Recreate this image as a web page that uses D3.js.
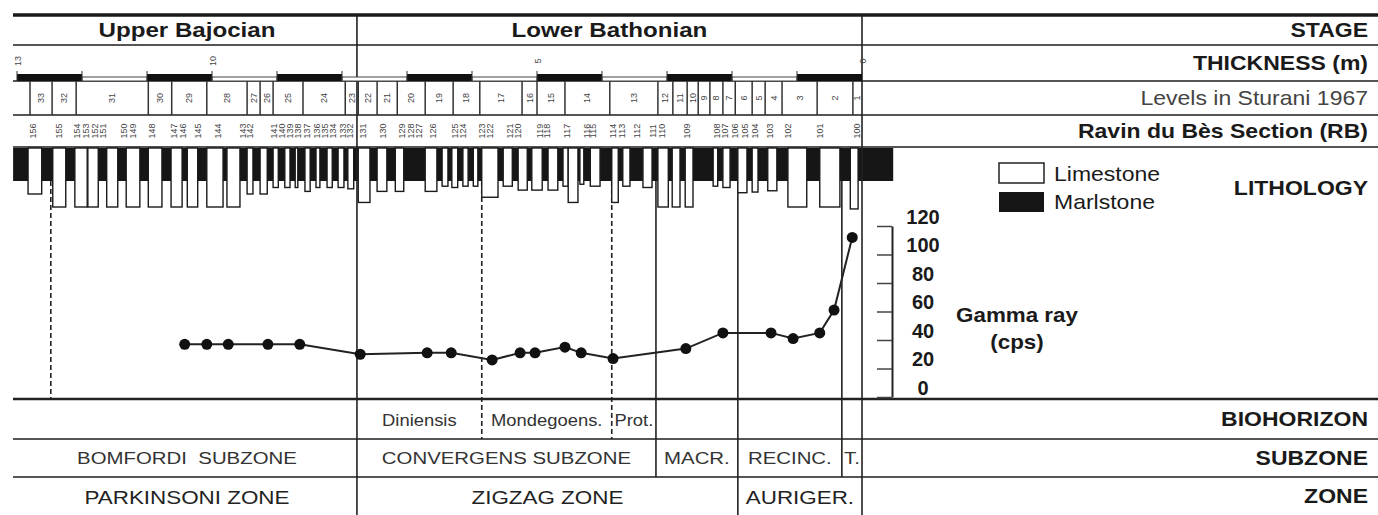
<!DOCTYPE html>
<html>
<head>
<meta charset="utf-8">
<script src="https://cdn.jsdelivr.net/npm/d3@7"></script>
<style>
body { margin: 0; background: #fff; }
svg text { font-family: "Liberation Sans", Arial, sans-serif; white-space: pre; }
</style>
</head>
<body>
<svg id="chart" width="1378" height="515"></svg>
<script>
// ---- data (positions in metres below the top of the section) ----
var thicknessTicks = [13, 10, 5, 0];

var stageNames = ["Upper Bajocian", "Lower Bathonian"];
var stageBounds = [[13, 7.77], [7.77, 0]];

// Sturani 1967 levels: left edge of each level, labels 33 -> 1
var levelStarts = [12.80, 12.46, 12.09, 10.98, 10.62, 10.08, 9.46, 9.26, 9.06, 8.60, 7.95, 7.75,
  7.46, 7.15, 6.72, 6.29, 5.88, 5.23, 5.00, 4.57, 3.88, 3.14, 2.91, 2.69, 2.52, 2.34, 2.14,
  1.95, 1.69, 1.49, 1.23, 0.69, 0.14];
var levelNames = ["33","32","31","30","29","28","27","26","25","24","23","22","21","20","19",
  "18","17","16","15","14","13","12","11","10","9","8","7","6","5","4","3","2","1"];

// Ravin du Bes samples
var sampleM = [12.75,12.35,12.08,11.94,11.80,11.68,11.35,11.22,10.92,10.58,10.45,10.22,9.91,
  9.52,9.42,9.05,8.92,8.80,8.68,8.54,8.38,8.26,8.14,7.98,7.88,7.68,7.37,7.08,6.94,6.82,6.60,
  6.26,6.14,5.85,5.72,5.42,5.29,4.95,4.85,4.54,4.23,4.14,3.83,3.69,3.46,3.22,3.08,2.69,2.23,
  2.11,1.95,1.80,1.65,1.42,1.14,0.65,0.08];
var sampleIds = ["156","155","154","153","152","151","150","149","148","147","146","145","144",
  "143","142","141","140","139","138","137","136","135","134","133","132","131","130","129",
  "128","127","126","125","124","123","122","121","120","119","118","117","116","115","114",
  "113","112","111","110","109","108","107","106","105","104","103","102","101","100"];

// lithology: marl background, limestone beds [from, to, relief]
var marlExtent = [13.06, -0.48];
var limestoneBeds = [
  [12.83,12.62,2],[12.45,12.25,4],[12.11,11.92,4],[11.91,11.75,4],[11.62,11.45,4],
  [11.32,11.11,4],[10.98,10.77,4],[10.63,10.46,4],[10.38,10.22,4],[10.08,9.83,4],
  [9.77,9.57,4],[9.46,9.37,2],[9.26,9.15,2],[9.06,8.98,1],[8.88,8.80,1],[8.72,8.68,1],
  [8.57,8.49,1.6],[8.40,8.34,1],[8.23,8.15,1],[8.06,7.97,1],[7.91,7.82,1.2],[7.75,7.57,3.3],
  [7.46,7.31,1.6],[7.18,7.05,1.6],[6.72,6.54,1.6],[6.46,6.37,0.8],[6.31,6.22,1],
  [6.14,6.06,0.8],[5.98,5.91,0.8],[5.85,5.60,2.5],[5.52,5.38,0.8],[5.29,5.15,1.4],
  [5.08,4.92,1.4],[4.83,4.68,1.4],[4.60,4.52,0.8],[4.52,4.37,3.3],[4.34,4.28,0.5],
  [4.18,4.03,0.8],[3.85,3.75,3.3],[3.68,3.57,0.8],[3.37,3.23,1],[3.14,2.98,4],
  [2.92,2.80,4],[2.72,2.60,4],[2.29,2.22,0.8],[2.14,2.03,1],[1.91,1.77,1.8],
  [1.69,1.60,1.7],[1.45,1.31,1.5],[1.14,0.85,4],[0.65,0.34,4],[0.18,0.06,4.3]
];

// gamma ray
var gammaM = [10.42,10.08,9.75,9.14,8.65,7.72,6.69,6.32,5.69,5.26,5.03,4.57,4.32,3.83,
  2.71,2.14,1.40,1.06,0.65,0.43,0.15];
var gammaCps = [37,37,37,37,37,30,31,31,26,31,31,35,31,27,34,45,45,41,45,61,112];
var gammaTicks = [0, 20, 40, 60, 80, 100, 120];

// biostratigraphy
var bioNames = ["Diniensis", "Mondegoens.", "Prot."];
var bioBounds = [[7.77, 5.85], [5.85, 3.85], [3.85, 3.17]];
var subzoneNames = ["BOMFORDI  SUBZONE", "CONVERGENS SUBZONE", "MACR.", "RECINC.", "T."];
var subzoneBounds = [[13, 7.77], [7.77, 3.17], [3.17, 1.91], [1.91, 0.31], [0.31, 0]];
var zoneNames = ["PARKINSONI ZONE", "ZIGZAG ZONE", "AURIGER."];
var zoneBounds = [[13, 7.77], [7.77, 1.91], [1.91, 0]];

// boundary lines through the log
var boundaryM = [12.48, 5.85, 3.85, 3.17, 1.91, 0.31];
var boundaryDashed = [true, true, true, false, false, false];
var boundaryReach = ["panel", "bio", "bio", "subzone", "zone", "subzone"];

var rowTitles = ["STAGE", "THICKNESS (m)", "Levels in Sturani 1967", "Ravin du Bès Section (RB)",
  "LITHOLOGY", "BIOHORIZON", "SUBZONE", "ZONE"];

// ---- layout ----
var rows = {top: 15, stage: 45, thick: 81, levels: 115, ravin: 147, panel: 399, bio: 439, subzone: 477, zone: 515};
var right = 1368;

var svg = d3.select("#chart");
var x = d3.scaleLinear().domain([13, 0]).range([17, 862]);
var y = d3.scaleLinear().domain([0, 120]).range([397, 226]);
var relief = d3.scaleLinear().domain([0, 4]).range([181, 207]);

function txt(sel, px, py, s, o) {
  return sel.append("text")
    .attr("transform", "translate(" + px + "," + py + ") scale(" + (o.sx || 1) + ",1)")
    .attr("text-anchor", o.anchor || "middle")
    .attr("dominant-baseline", "central")
    .style("font-size", o.size + "px")
    .style("font-weight", o.weight || "normal")
    .attr("fill", o.fill || "#1a1a1a")
    .text(s);
}

// horizontal row lines
svg.append("line").attr("x1", 13).attr("x2", 1378).attr("y1", rows.top).attr("y2", rows.top)
  .attr("stroke", "#1a1a1a").attr("stroke-width", 3.5);
[rows.stage, rows.thick, rows.levels, rows.ravin, rows.bio, rows.subzone].forEach(function(r) {
  svg.append("line").attr("x1", 13).attr("x2", 1378).attr("y1", r).attr("y2", r)
    .attr("stroke", "#555").attr("stroke-width", 2);
});
svg.append("line").attr("x1", 13).attr("x2", 1378).attr("y1", rows.panel).attr("y2", rows.panel)
  .attr("stroke", "#222").attr("stroke-width", 2.5);

// boundary lines (drawn under the lithology)
boundaryM.forEach(function(m, i) {
  svg.append("line").attr("x1", x(m)).attr("x2", x(m))
    .attr("y1", relief(0)).attr("y2", rows[boundaryReach[i]])
    .attr("stroke", "#222").attr("stroke-width", 1.6)
    .attr("stroke-dasharray", boundaryDashed[i] ? "5,3" : null);
});

// lithology
var litho = svg.append("g");
litho.append("rect").attr("x", x(marlExtent[0])).attr("y", rows.ravin + 1)
  .attr("width", x(marlExtent[1]) - x(marlExtent[0])).attr("height", relief(0) - rows.ravin - 1)
  .attr("fill", "#161616");
litho.selectAll("rect.lime").data(limestoneBeds).enter().append("rect").attr("class", "lime")
  .attr("x", function(d) { return x(d[0]); })
  .attr("y", rows.ravin + 1)
  .attr("width", function(d) { return x(d[1]) - x(d[0]); })
  .attr("height", function(d) { return relief(d[2]) - rows.ravin - 1; })
  .attr("fill", "#fff").attr("stroke", "#1a1a1a").attr("stroke-width", 1.4);

// main frame lines: stage boundary and right edge of the log
[7.77, 0].forEach(function(m) {
  svg.append("line").attr("x1", x(m)).attr("x2", x(m)).attr("y1", rows.top).attr("y2", rows.zone)
    .attr("stroke", "#222").attr("stroke-width", 1.6);
});

// stage names
stageNames.forEach(function(s, i) {
  var b = stageBounds[i];
  txt(svg, (x(b[0]) + x(b[1])) / 2, 30, s, {size: 21, weight: "bold", sx: 1.15});
});

// thickness scale
var segs = d3.range(13);
segs.forEach(function(i) {
  var x0 = x(13 - i), x1 = x(12 - i);
  if (i % 2 === 0) {
    svg.append("rect").attr("x", x0).attr("y", 74).attr("width", x1 - x0).attr("height", rows.thick - 74)
      .attr("fill", "#111");
  } else {
    svg.append("rect").attr("x", x0).attr("y", 77).attr("width", x1 - x0).attr("height", rows.thick - 77)
      .attr("fill", "#fff").attr("stroke", "#444").attr("stroke-width", 1);
  }
  svg.append("line").attr("x1", x0).attr("x2", x0).attr("y1", 71).attr("y2", rows.thick)
    .attr("stroke", "#333").attr("stroke-width", 1);
});
thicknessTicks.forEach(function(t) {
  svg.append("text").attr("transform", "translate(" + (x(t) + 1) + ",61) rotate(-90)")
    .attr("text-anchor", "middle").attr("dominant-baseline", "central")
    .style("font-size", "9px").attr("fill", "#444").text(t);
});

// Sturani levels
levelStarts.forEach(function(m, i) {
  var next = i < levelStarts.length - 1 ? levelStarts[i + 1] : 0;
  svg.append("line").attr("x1", x(m)).attr("x2", x(m)).attr("y1", rows.thick).attr("y2", rows.levels)
    .attr("stroke", "#333").attr("stroke-width", 1.5);
  svg.append("text").attr("transform", "translate(" + ((x(m) + x(next)) / 2) + ",98) rotate(-90)")
    .attr("text-anchor", "middle").attr("dominant-baseline", "central")
    .style("font-size", "9px").attr("fill", "#444").text(levelNames[i]);
});

// sample numbers
sampleM.forEach(function(m, i) {
  svg.append("text").attr("transform", "translate(" + x(m) + ",131) rotate(-90)")
    .attr("text-anchor", "middle").attr("dominant-baseline", "central")
    .style("font-size", "9px").attr("fill", "#444").text(sampleIds[i]);
});

// gamma ray curve
var pts = gammaM.map(function(m, i) { return [x(m), y(gammaCps[i])]; });
svg.append("path").attr("d", d3.line()(pts)).attr("fill", "none")
  .attr("stroke", "#222").attr("stroke-width", 2);
svg.selectAll("circle.gr").data(pts).enter().append("circle").attr("class", "gr")
  .attr("cx", function(d) { return d[0]; }).attr("cy", function(d) { return d[1]; })
  .attr("r", 5.5).attr("fill", "#111");

// gamma axis
var axisG = svg.append("g").attr("transform", "translate(892,0)")
  .call(d3.axisRight(y).tickValues(gammaTicks).tickSize(-15).tickSizeOuter(0));
axisG.select(".domain").attr("stroke", "#222").attr("stroke-width", 2);
axisG.selectAll(".tick line").attr("stroke", "#444").attr("stroke-width", 1.5);
axisG.selectAll(".tick text").attr("x", 31).attr("y", -10).attr("dy", "0.35em")
  .attr("text-anchor", "middle").style("font-size", "20px").style("font-weight", "bold")
  .style("font-family", "'Liberation Sans', Arial, sans-serif").attr("fill", "#1a1a1a");
txt(svg, 1017, 315, "Gamma ray", {size: 20, weight: "bold", sx: 1.12});
txt(svg, 1017, 342, "(cps)", {size: 20, weight: "bold", sx: 1.12});

// legend
svg.append("rect").attr("x", 999).attr("y", 163).attr("width", 45).attr("height", 20)
  .attr("fill", "#fff").attr("stroke", "#222").attr("stroke-width", 1.5);
svg.append("rect").attr("x", 999).attr("y", 192).attr("width", 45).attr("height", 20)
  .attr("fill", "#161616");
txt(svg, 1054, 174, "Limestone", {size: 20, anchor: "start", sx: 1.15});
txt(svg, 1054, 202, "Marlstone", {size: 20, anchor: "start", sx: 1.15});

// biostratigraphic rows
bioNames.forEach(function(s, i) {
  var b = bioBounds[i];
  txt(svg, (x(b[0]) + x(b[1])) / 2, 420, s, {size: 16, sx: 1.15, fill: "#333"});
});
subzoneNames.forEach(function(s, i) {
  var b = subzoneBounds[i];
  txt(svg, (x(b[0]) + x(b[1])) / 2, 458, s, {size: 17, sx: 1.2, fill: "#333"});
});
zoneNames.forEach(function(s, i) {
  var b = zoneBounds[i];
  txt(svg, (x(b[0]) + x(b[1])) / 2, 497, s, {size: 19, sx: 1.18, fill: "#222"});
});

// row titles
var titleY = [30, 63, 98, 131, 188, 419, 458, 496];
rowTitles.forEach(function(s, i) {
  var isLevels = i === 2;
  txt(svg, right, titleY[i], s, {size: 20, weight: isLevels ? "normal" : "bold", anchor: "end",
    sx: 1.15, fill: isLevels ? "#444" : "#1a1a1a"});
});
</script>
</body>
</html>
